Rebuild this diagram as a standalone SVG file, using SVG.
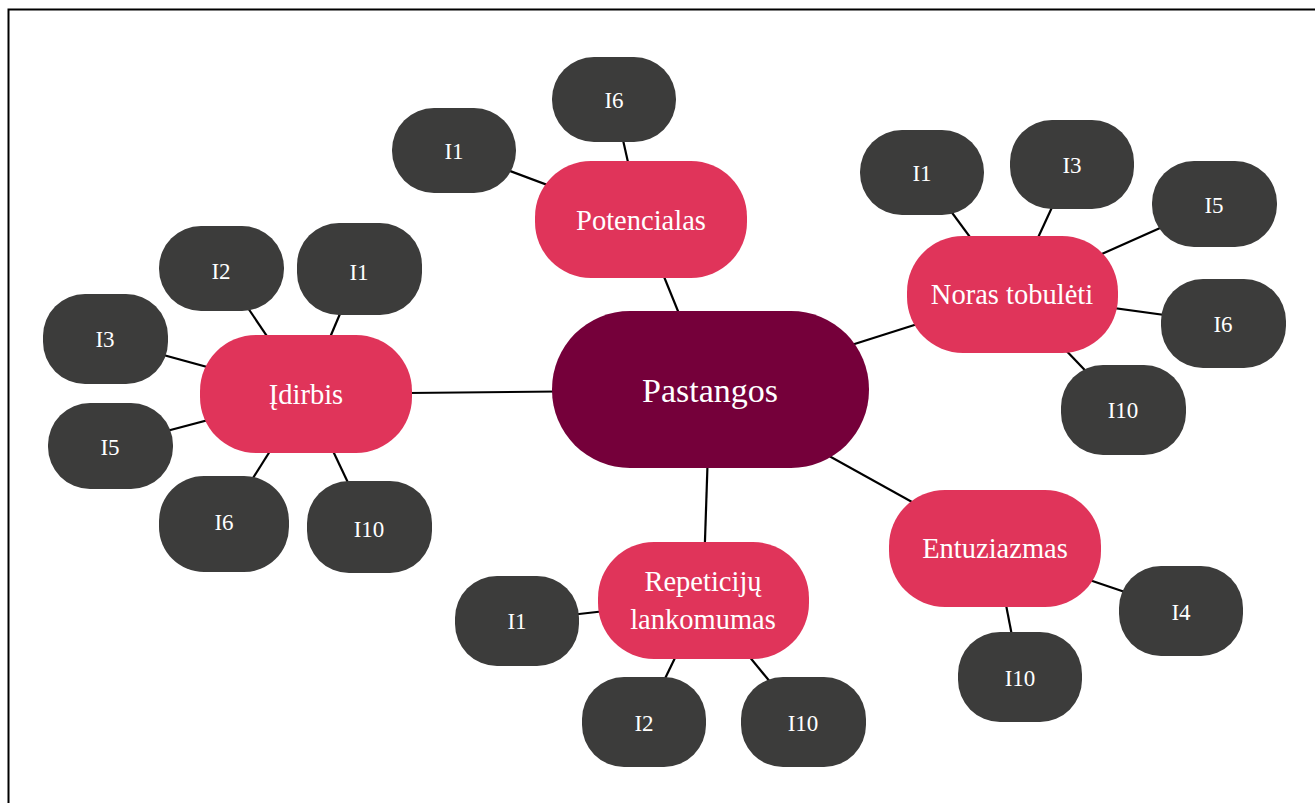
<svg xmlns="http://www.w3.org/2000/svg" width="1315" height="803" viewBox="0 0 1315 803">
<style>
.frame{fill:none;stroke:#000;stroke-width:2}
.conn line{stroke:#000;stroke-width:2.2}
.center{fill:#75003a}
.topic{fill:#e0345a}
.leaf{fill:#3c3c3b}
text{font-family:"Liberation Serif","Times New Roman",serif;fill:#fff;text-anchor:middle}
.tc{font-size:34px}
.tt{font-size:28.5px}
.tl{font-size:23px}
</style>
<rect x="0" y="0" width="1315" height="803" fill="#fff"/>
<rect class="frame" x="8.5" y="9.5" width="1330" height="820"/>
<g id="connectors" class="conn">
<line x1="710" y1="390" x2="641" y2="220"/>
<line x1="710" y1="390" x2="306" y2="394"/>
<line x1="710" y1="390" x2="1012" y2="294"/>
<line x1="710" y1="390" x2="995" y2="548"/>
<line x1="710" y1="390" x2="703" y2="600"/>
<line x1="641" y1="220" x2="454" y2="150"/>
<line x1="641" y1="220" x2="614" y2="100"/>
<line x1="1012" y1="294" x2="922" y2="172"/>
<line x1="1012" y1="294" x2="1072" y2="164"/>
<line x1="1012" y1="294" x2="1214" y2="204"/>
<line x1="1012" y1="294" x2="1223" y2="323"/>
<line x1="1012" y1="294" x2="1123" y2="410"/>
<line x1="995" y1="548" x2="1181" y2="611"/>
<line x1="995" y1="548" x2="1020" y2="677"/>
<line x1="703" y1="600" x2="517" y2="621"/>
<line x1="703" y1="600" x2="644" y2="722"/>
<line x1="703" y1="600" x2="803" y2="722"/>
<line x1="306" y1="394" x2="221" y2="268"/>
<line x1="306" y1="394" x2="359" y2="269"/>
<line x1="306" y1="394" x2="105" y2="339"/>
<line x1="306" y1="394" x2="110" y2="446"/>
<line x1="306" y1="394" x2="224" y2="524"/>
<line x1="306" y1="394" x2="369" y2="527"/>
</g>
<g id="pastangos"><rect class="center" x="552" y="311" width="317" height="157" rx="78" ry="78"/><text class="tc" x="710" y="402">Pastangos</text></g>
<g id="potencialas"><rect class="topic" x="535" y="161" width="212" height="117" rx="56" ry="56"/><text class="tt" x="641" y="230">Potencialas</text></g>
<g id="pot-i1"><rect class="leaf" x="392" y="108" width="124" height="85" rx="42" ry="42"/><text class="tl" x="454" y="159">I1</text></g>
<g id="pot-i6"><rect class="leaf" x="552" y="57" width="124" height="85" rx="42" ry="42"/><text class="tl" x="614" y="108">I6</text></g>
<g id="noras"><rect class="topic" x="907" y="236" width="211" height="117" rx="56" ry="56"/><text class="tt" x="1012" y="304">Noras tobulėti</text></g>
<g id="noras-i1"><rect class="leaf" x="860" y="130" width="124" height="85" rx="42" ry="42"/><text class="tl" x="922" y="181">I1</text></g>
<g id="noras-i3"><rect class="leaf" x="1010" y="120" width="124" height="89" rx="42" ry="42"/><text class="tl" x="1072" y="173">I3</text></g>
<g id="noras-i5"><rect class="leaf" x="1152" y="161" width="125" height="86" rx="42" ry="42"/><text class="tl" x="1214" y="213">I5</text></g>
<g id="noras-i6"><rect class="leaf" x="1161" y="279" width="125" height="89" rx="42" ry="42"/><text class="tl" x="1223" y="332">I6</text></g>
<g id="noras-i10"><rect class="leaf" x="1061" y="365" width="125" height="90" rx="42" ry="42"/><text class="tl" x="1123" y="418">I10</text></g>
<g id="entuziazmas"><rect class="topic" x="889" y="490" width="212" height="117" rx="56" ry="56"/><text class="tt" x="995" y="558">Entuziazmas</text></g>
<g id="ent-i4"><rect class="leaf" x="1119" y="566" width="124" height="90" rx="42" ry="42"/><text class="tl" x="1181" y="620">I4</text></g>
<g id="ent-i10"><rect class="leaf" x="958" y="632" width="124" height="90" rx="42" ry="42"/><text class="tl" x="1020" y="686">I10</text></g>
<g id="repeticiju"><rect class="topic" x="598" y="542" width="211" height="117" rx="56" ry="56"/><text class="tt" x="703" y="591">Repeticijų</text><text class="tt" x="703" y="629">lankomumas</text></g>
<g id="rep-i1"><rect class="leaf" x="455" y="576" width="124" height="90" rx="42" ry="42"/><text class="tl" x="517" y="629">I1</text></g>
<g id="rep-i2"><rect class="leaf" x="582" y="677" width="124" height="90" rx="42" ry="42"/><text class="tl" x="644" y="731">I2</text></g>
<g id="rep-i10"><rect class="leaf" x="741" y="677" width="125" height="90" rx="42" ry="42"/><text class="tl" x="803" y="731">I10</text></g>
<g id="idirbis"><rect class="topic" x="200" y="335" width="212" height="118" rx="56" ry="56"/><text class="tt" x="306" y="404">Įdirbis</text></g>
<g id="id-i2"><rect class="leaf" x="159" y="226" width="125" height="85" rx="42" ry="42"/><text class="tl" x="221" y="279">I2</text></g>
<g id="id-i1"><rect class="leaf" x="297" y="223" width="125" height="92" rx="42" ry="42"/><text class="tl" x="359" y="280">I1</text></g>
<g id="id-i3"><rect class="leaf" x="43" y="294" width="125" height="90" rx="42" ry="42"/><text class="tl" x="105" y="347">I3</text></g>
<g id="id-i5"><rect class="leaf" x="48" y="403" width="125" height="86" rx="42" ry="42"/><text class="tl" x="110" y="455">I5</text></g>
<g id="id-i6"><rect class="leaf" x="159" y="476" width="130" height="96" rx="45" ry="45"/><text class="tl" x="224" y="530">I6</text></g>
<g id="id-i10"><rect class="leaf" x="307" y="481" width="125" height="92" rx="42" ry="42"/><text class="tl" x="369" y="537">I10</text></g>
</svg>
